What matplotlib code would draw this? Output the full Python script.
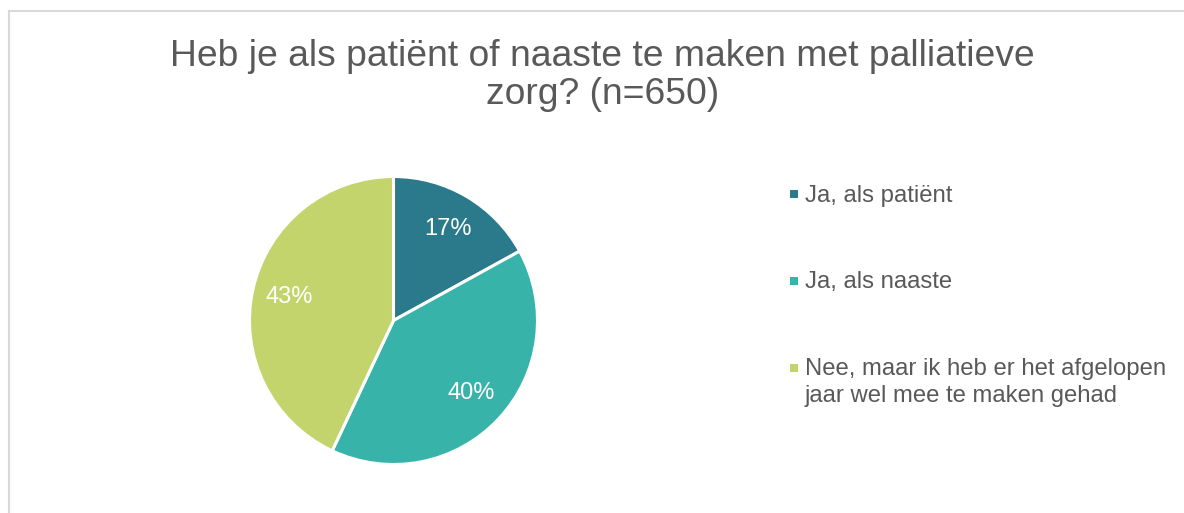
import matplotlib
matplotlib.use("Agg")
import matplotlib.pyplot as plt
from matplotlib.lines import Line2D

# ---- data ----
title_lines = ["Heb je als patiënt of naaste te maken met palliatieve", "zorg? (n=650)"]
categories = ["Ja, als patiënt", "Ja, als naaste",
              "Nee, maar ik heb er het afgelopen\njaar wel mee te maken gehad"]
values = [17, 40, 43]
colors = ["#2B7A8B", "#38B3AA", "#C3D46C"]

W, H = 1184, 513
plt.rcParams['font.family'] = ['Liberation Sans', 'DejaVu Sans']
text_color = "#595959"

fig = plt.figure(figsize=(W / 100, H / 100), dpi=100)
fig.patch.set_facecolor("white")

def fx(x):
    return x / W

def fy(y):
    return 1 - y / H

# border (top and left lines)
fig.add_artist(Line2D([fx(8.5), fx(8.5)], [fy(10.5), fy(513)], color="#D9D9D9", lw=1.5))
fig.add_artist(Line2D([fx(8.5), fx(1184)], [fy(10.5), fy(10.5)], color="#D9D9D9", lw=1.5))

# title
fig.text(fx(602), fy(66), title_lines[0], ha="center", va="baseline",
         fontsize=26.8, color=text_color)
fig.text(fx(602.5), fy(104.5), title_lines[1], ha="center", va="baseline",
         fontsize=26.8, color=text_color)

# pie
cx, cy, r = 393.5, 320.5, 144
ax = fig.add_axes([fx(cx - r), fy(cy + r), 2 * r / W, 2 * r / H])
wedges, texts, autotexts = ax.pie(
    values, colors=colors, startangle=90, counterclock=False,
    autopct=lambda p: f"{p:.0f}%", pctdistance=0.74,
    wedgeprops=dict(edgecolor="white", linewidth=2.2),
    textprops=dict(color="white", fontsize=17))
ax.set_xlim(-1, 1)
ax.set_ylim(-1, 1)
ax.axis("off")

# legend (manual placement)
baselines = [201.7, 288.3, 375]
for w, lab, col, b in zip(wedges, categories, colors, baselines):
    first = lab.split("\n")
    fig.text(fx(805), fy(b), first[0], ha="left", va="baseline",
             fontsize=17.2, color=text_color)
    for k, extra in enumerate(first[1:], start=1):
        fig.text(fx(805), fy(b + 26.7 * k), extra, ha="left", va="baseline",
                 fontsize=17.2, color=text_color)
    fig.add_artist(Line2D([fx(793.5)], [fy(b - 7.5)], marker="s", markersize=5.2,
                          markerfacecolor=w.get_facecolor(), markeredgewidth=0,
                          linestyle="none"))

fig.savefig("out.png", dpi=100, facecolor="white")
